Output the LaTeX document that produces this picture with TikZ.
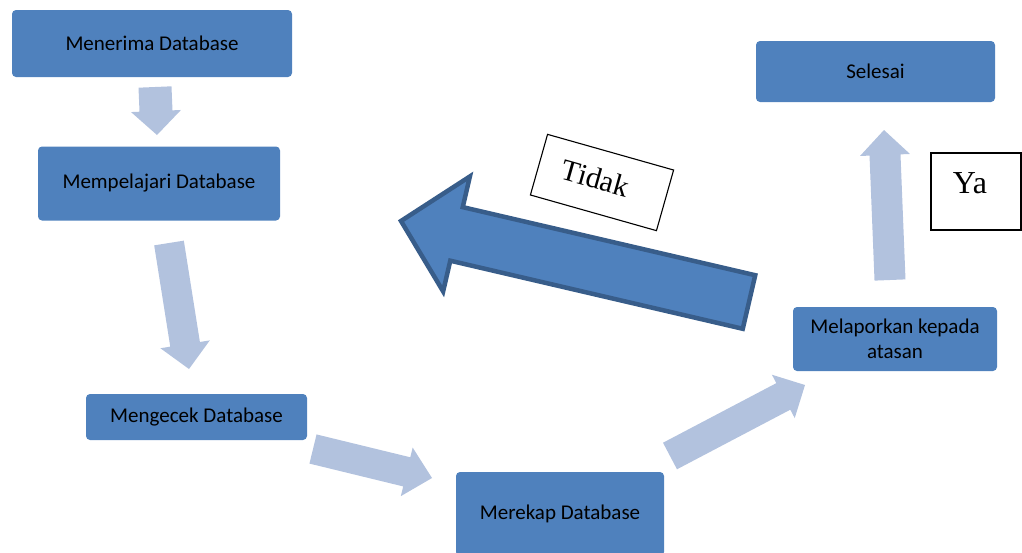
\documentclass[tikz,border=0pt]{standalone}
\usepackage{fontspec}
\setmainfont{Liberation Serif}
\newfontfamily\boxfont{Carlito}
\usetikzlibrary{calc}

\definecolor{boxblue}{RGB}{79,129,189}
\definecolor{flowlight}{RGB}{178,194,222}
\definecolor{edgeblue}{RGB}{56,93,138}

% Block arrow: #1 tail, #2 tip, #3 shaft half width, #4 head half width,
% #5 head length, #6 path style
\newcommand{\blockarrow}[6]{%
  \path ($(#2)!#5!(#1)$) coordinate (ba-base);
  \path[#6] ($(#1)!#3!90:(#2)$) -- ($(ba-base)!#3!90:(#2)$)
    -- ($(ba-base)!#4!90:(#2)$) -- (#2)
    -- ($(ba-base)!#4!-90:(#2)$) -- ($(ba-base)!#3!-90:(#2)$)
    -- ($(#1)!#3!-90:(#2)$) -- cycle;
}

\tikzset{
  stepbox/.style={rectangle, rounded corners=4pt, fill=boxblue, inner sep=2pt,
    font=\boxfont\fontsize{21}{24.5}\selectfont, text=black, align=center},
  labelbox/.style={rectangle, draw=black, line width=1.1pt, fill=white, inner sep=0pt,
    font=\fontsize{30}{34}\selectfont},
  lightarrow/.style={fill=flowlight},
  backarrow/.style={fill=boxblue, draw=edgeblue, line width=4.5pt, line join=miter}
}

\begin{document}
\begin{tikzpicture}[x=1pt,y=-1pt]
\useasboundingbox (0,0) rectangle (1022,552);
\clip (0,0) rectangle (1022,552);

% process steps
\node[stepbox, minimum width=280pt, minimum height=67pt] (terima) at (152,43.5) {Menerima Database};
\node[stepbox, minimum width=242pt, minimum height=74pt] (pelajari) at (159,183.5) {Mempelajari Database};
\node[stepbox, minimum width=221pt, minimum height=46pt] (cek) at (196.5,417) {Mengecek Database};
\node[stepbox, minimum width=208pt, minimum height=84pt] (rekap) at (560,514) {Merekap Database};
\node[stepbox, minimum width=204pt, minimum height=64pt] (lapor) at (895,339) {Melaporkan kepada\\atasan};
\node[stepbox, minimum width=239pt, minimum height=61pt] (selesai) at (875.5,71.5) {Selesai};

% flow arrows between the steps
\coordinate (a1t) at (155,87);   \coordinate (a1h) at (157,135);
\coordinate (a2t) at (169,243);  \coordinate (a2h) at (189,369);
\coordinate (a3t) at (313,449);  \coordinate (a3h) at (432,478);
\coordinate (a4t) at (670,456);  \coordinate (a4h) at (805,385);
\coordinate (a5t) at (890,280);  \coordinate (a5h) at (884,130);
\blockarrow{a1t}{a1h}{16.5pt}{25pt}{24pt}{lightarrow}
\blockarrow{a2t}{a2h}{15pt}{25pt}{25pt}{lightarrow}
\blockarrow{a3t}{a3h}{15pt}{25pt}{26pt}{lightarrow}
\blockarrow{a4t}{a4h}{15pt}{24.5pt}{24.5pt}{lightarrow}
\blockarrow{a5t}{a5h}{15.5pt}{25pt}{25pt}{lightarrow}

% "no" branch back to the review step
\coordinate (backt) at (749,302);
\coordinate (backh) at (401,221);
\blockarrow{backt}{backh}{27.5pt}{59pt}{57pt}{backarrow}

% decision labels, text set towards the upper left of each box
\node[labelbox, rotate=-15.8, minimum width=131pt, minimum height=63pt] (tidak) at (602,182.5)
  {\rule[-5pt]{0pt}{0pt}Tidak\hspace*{15pt}};
\node[labelbox, font=\fontsize{32}{36}\selectfont, minimum width=90pt, minimum height=77pt] (ya) at (976,191.5)
  {\rule[-16pt]{0pt}{0pt}Ya\hspace*{12pt}};
\end{tikzpicture}
\end{document}
